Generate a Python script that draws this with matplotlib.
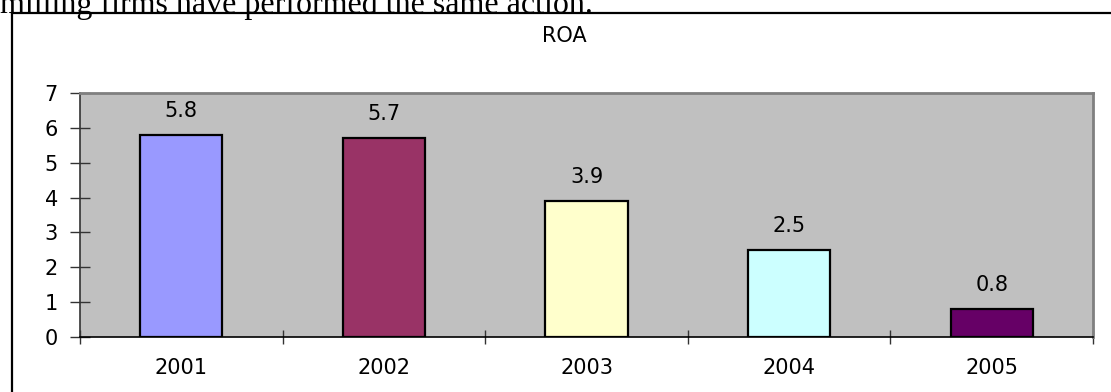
import matplotlib
matplotlib.use("Agg")
import matplotlib.pyplot as plt
from matplotlib.lines import Line2D

years = ["2001", "2002", "2003", "2004", "2005"]
roa = [5.8, 5.7, 3.9, 2.5, 0.8]
bar_colors = ["#9999FF", "#993366", "#FFFFCC", "#CCFFFF", "#660066"]
y_ticks = [0, 1, 2, 3, 4, 5, 6, 7]

W, H = 1111, 392
fig = plt.figure(figsize=(W / 100, H / 100), dpi=100)
fig.patch.set_facecolor("white")

SANS = "DejaVu Sans"
FS = 15


def fx(px):
    return px / W


def fy(py):
    return 1 - py / H


# plot area in pixel coordinates
left, right, top, bottom = 80, 1093, 93, 337
ax = fig.add_axes([fx(left), fy(bottom), fx(right - left), (bottom - top) / H])
ax.set_facecolor("#C0C0C0")

x = list(range(len(years)))
ax.bar(x, roa, width=0.405, color=bar_colors, edgecolor="black", linewidth=1.6, zorder=3)
for xi, v in zip(x, roa):
    ax.annotate(f"{v}", (xi, v), xytext=(0, 10), textcoords="offset points",
                ha="center", va="bottom", fontsize=FS, family=SANS)

ax.set_xlim(-0.5, len(years) - 0.5)
ax.set_ylim(0, 7)
ax.set_yticks(y_ticks)
ax.set_yticklabels([str(t) for t in y_ticks], fontsize=FS, family=SANS)
ax.set_xticks(x)
ax.set_xticklabels(years, fontsize=FS, family=SANS)
ax.tick_params(axis="x", length=0, pad=15)
ax.tick_params(axis="y", direction="inout", length=14, width=1, pad=9, color="#333333")

# category boundary ticks on the x axis
ax.set_xticks([i - 0.5 for i in range(len(years) + 1)], minor=True)
ax.tick_params(axis="x", which="minor", direction="inout", length=9.5, width=1, color="#333333")

for s in ["top", "right"]:
    ax.spines[s].set_color("#808080")
    ax.spines[s].set_linewidth(2)
ax.spines["left"].set_color("#333333")
ax.spines["left"].set_linewidth(1.2)
ax.spines["bottom"].set_color("black")
ax.spines["bottom"].set_linewidth(1.2)

fig.text(fx(564), fy(36), "ROA", ha="center", va="center", fontsize=FS, family=SANS)

# surrounding frame
fig.add_artist(Line2D([fx(12), 1], [fy(13), fy(13)], color="black", linewidth=1.6))
fig.add_artist(Line2D([fx(12), fx(12)], [fy(13), 0], color="black", linewidth=1.6))

# running text above the chart
fig.text(fx(0), fy(13), "milling firms have performed the same action.", ha="left",
         va="baseline", fontsize=23, family="Liberation Serif")

fig.savefig("out.png", dpi=100)
